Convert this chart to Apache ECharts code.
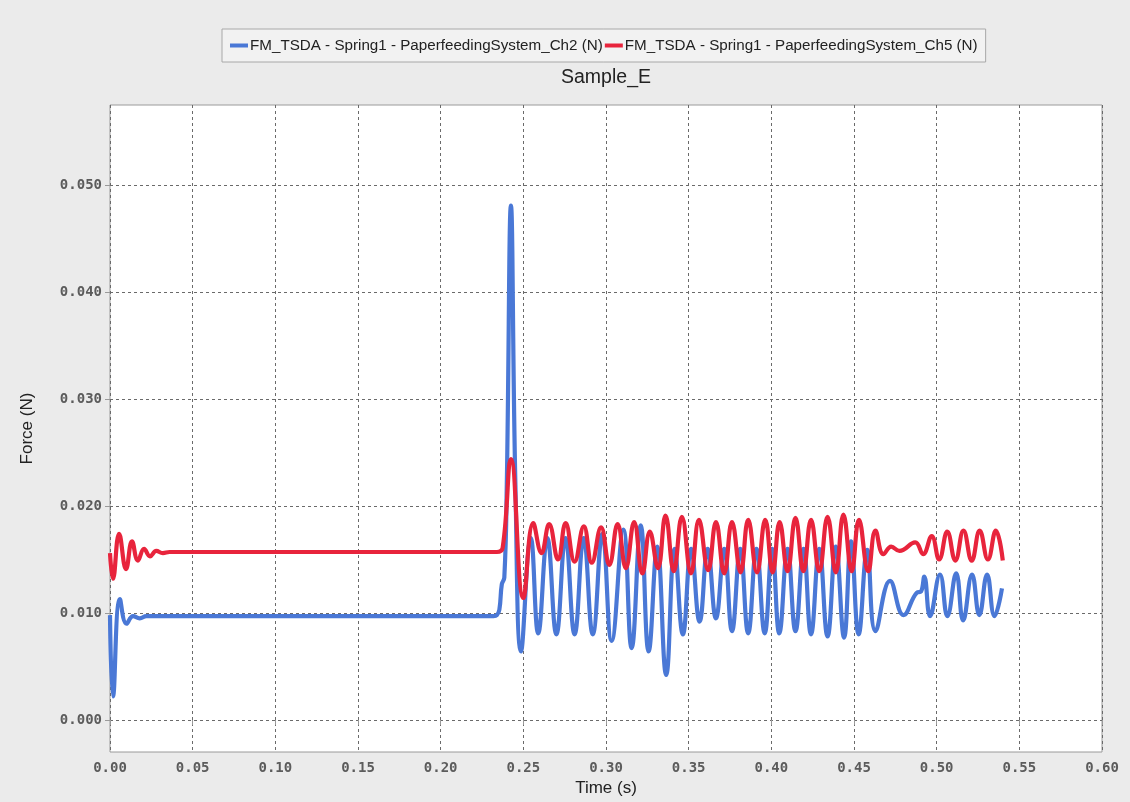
<!DOCTYPE html>
<html>
<head>
<meta charset="utf-8">
<script src="https://cdn.jsdelivr.net/npm/echarts@6/dist/echarts.min.js"></script>
<style>
html,body{margin:0;padding:0;background:#ebebeb;}
#chart{width:1130px;height:802px;}
</style>
</head>
<body>
<div id="chart"></div>
<script>
// ---- data ----
const chartTitle = 'Sample_E';
const seriesNames = [
  'FM_TSDA - Spring1 - PaperfeedingSystem_Ch2 (N)',
  'FM_TSDA - Spring1 - PaperfeedingSystem_Ch5 (N)'
];
const xTicks = [0,0.05,0.10,0.15,0.20,0.25,0.30,0.35,0.40,0.45,0.50,0.55,0.60];
const yTicks = [0,0.01,0.02,0.03,0.04,0.05];

// Ch2 (blue): [time s, force N]
const ch2Points = [
  [0.0000,0.0098],[0.0018,0.0022],[0.0060,0.0113],[0.0100,0.0090],[0.0140,0.0097],
  [0.0180,0.0095],[0.0220,0.0097],[0.1000,0.0097],[0.2320,0.0097],[0.2340,0.0098],
  [0.2355,0.0103],[0.2370,0.0127],[0.2385,0.0133],[0.2400,0.0220],[0.2425,0.0481],
  [0.2452,0.0220],[0.2486,0.0064],[0.2545,0.0170],[0.2590,0.0081],[0.2645,0.0170],
  [0.2700,0.0080],[0.2755,0.0170],[0.2810,0.0080],[0.2865,0.0170],[0.2920,0.0080],
  [0.2978,0.0174],[0.3034,0.0074],[0.3105,0.0178],[0.3155,0.0067],[0.3210,0.0182],
  [0.3258,0.0064],[0.3310,0.0162],[0.3364,0.0042],[0.3415,0.0160],[0.3465,0.0080],
  [0.3515,0.0160],[0.3566,0.0092],[0.3615,0.0160],[0.3665,0.0095],[0.3715,0.0160],
  [0.3762,0.0083],[0.3812,0.0160],[0.3860,0.0081],[0.3910,0.0160],[0.3960,0.0081],
  [0.4005,0.0160],[0.4048,0.0081],[0.4098,0.0160],[0.4146,0.0083],[0.4195,0.0160],
  [0.4240,0.0080],[0.4290,0.0160],[0.4340,0.0078],[0.4390,0.0162],[0.4440,0.0077],
  [0.4482,0.0167],[0.4528,0.0080],[0.4580,0.0159],[0.4630,0.0083],[0.4718,0.0130],
  [0.4800,0.0098],[0.4880,0.0119],[0.4905,0.0120],[0.4925,0.0134],[0.4960,0.0097],
  [0.5020,0.0136],[0.5065,0.0097],[0.5118,0.0137],[0.5160,0.0093],[0.5214,0.0136],
  [0.5258,0.0098],[0.5305,0.0136],[0.5350,0.0097],[0.5395,0.0123]
];

// Ch5 (red): [time s, force N]
const ch5Points = [
  [0.0000,0.0156],[0.0018,0.0132],[0.0055,0.0174],[0.0097,0.0141],[0.0133,0.0167],
  [0.0169,0.0149],[0.0206,0.0160],[0.0242,0.0153],[0.0280,0.0158],[0.0320,0.0156],
  [0.0360,0.0157],[0.1000,0.0157],[0.2340,0.0157],[0.2375,0.0161],[0.2425,0.0244],
  [0.2500,0.0114],[0.2560,0.0184],[0.2610,0.0156],[0.2656,0.0183],[0.2710,0.0150],
  [0.2756,0.0184],[0.2810,0.0148],[0.2866,0.0181],[0.2914,0.0147],[0.2970,0.0180],
  [0.3020,0.0145],[0.3070,0.0183],[0.3120,0.0142],[0.3170,0.0185],[0.3220,0.0137],
  [0.3265,0.0176],[0.3314,0.0142],[0.3360,0.0191],[0.3410,0.0139],[0.3459,0.0190],
  [0.3514,0.0137],[0.3562,0.0187],[0.3618,0.0140],[0.3665,0.0185],[0.3715,0.0137],
  [0.3762,0.0185],[0.3814,0.0138],[0.3860,0.0187],[0.3913,0.0138],[0.3963,0.0187],
  [0.4008,0.0138],[0.4050,0.0185],[0.4098,0.0139],[0.4146,0.0189],[0.4194,0.0139],
  [0.4240,0.0187],[0.4290,0.0139],[0.4340,0.0190],[0.4390,0.0138],[0.4436,0.0192],
  [0.4486,0.0139],[0.4530,0.0187],[0.4586,0.0139],[0.4630,0.0177],[0.4678,0.0155],
  [0.4725,0.0162],[0.4775,0.0158],[0.4870,0.0166],[0.4918,0.0155],[0.4970,0.0172],
  [0.5015,0.0150],[0.5064,0.0176],[0.5113,0.0149],[0.5162,0.0177],[0.5212,0.0149],
  [0.5260,0.0177],[0.5310,0.0150],[0.5358,0.0177],[0.5400,0.0149]
];

// ---- chart ----
const chart = echarts.init(document.getElementById('chart'), null, {renderer:'canvas'});
const labelFont = {fontFamily:'DejaVu Sans Mono', fontSize:14, fontWeight:'bold', color:'#5c5c5c'};
const gridLine = {show:true, lineStyle:{color:'#6a6a6a', width:1, type:[3,3]}};

chart.setOption({
  backgroundColor:'#ebebeb',
  animation:false,
  title:{
    text:chartTitle, left:601, textAlign:'center', top:63,
    textStyle:{fontFamily:'Liberation Sans', fontSize:19.5, fontWeight:'normal', color:'#222'}
  },
  legend:{
    data:seriesNames, top:29, left:222,
    backgroundColor:'#f2f2f2', borderColor:'#a8a8a8', borderWidth:1,
    padding:[9,8,9,8], itemGap:2, itemWidth:18, itemHeight:4, icon:'rect',
    textStyle:{fontFamily:'Liberation Sans', fontSize:15.2, color:'#222', padding:[0,0,0,-3]}
  },
  grid:{left:110, right:28, top:105, bottom:50, show:true, backgroundColor:'#ffffff', borderColor:'#9a9a9a', borderWidth:1},
  xAxis:{
    type:'value', min:0, max:0.6, interval:0.05,
    name:'Time (s)', nameLocation:'middle', nameGap:27,
    nameTextStyle:{fontFamily:'Liberation Sans', fontSize:17, color:'#222'},
    axisLine:{show:false},
    axisTick:{show:true, length:5, lineStyle:{color:'#9a9a9a'}},
    axisLabel:Object.assign({margin:9, formatter:v=>v.toFixed(2)}, labelFont),
    splitLine:gridLine
  },
  yAxis:{
    type:'value', min:-0.003, max:0.0575,
    name:'Force (N)', nameLocation:'middle', nameGap:74,
    nameTextStyle:{fontFamily:'Liberation Sans', fontSize:17, color:'#222'},
    axisLine:{show:false},
    axisTick:{show:true, length:5, customValues:yTicks, lineStyle:{color:'#9a9a9a'}},
    axisLabel:Object.assign({margin:8, customValues:yTicks, formatter:v=>v.toFixed(3)}, labelFont),
    splitLine:gridLine
  },
  series:[
    {name:seriesNames[0], type:'line', data:ch2Points, showSymbol:false, smooth:0.45,
     lineStyle:{color:'#4a78d6', width:4.2}, itemStyle:{color:'#4a78d6'}},
    {name:seriesNames[1], type:'line', data:ch5Points, showSymbol:false, smooth:0.45,
     lineStyle:{color:'#e8243c', width:4.2}, itemStyle:{color:'#e8243c'}}
  ]
});
</script>
</body>
</html>
